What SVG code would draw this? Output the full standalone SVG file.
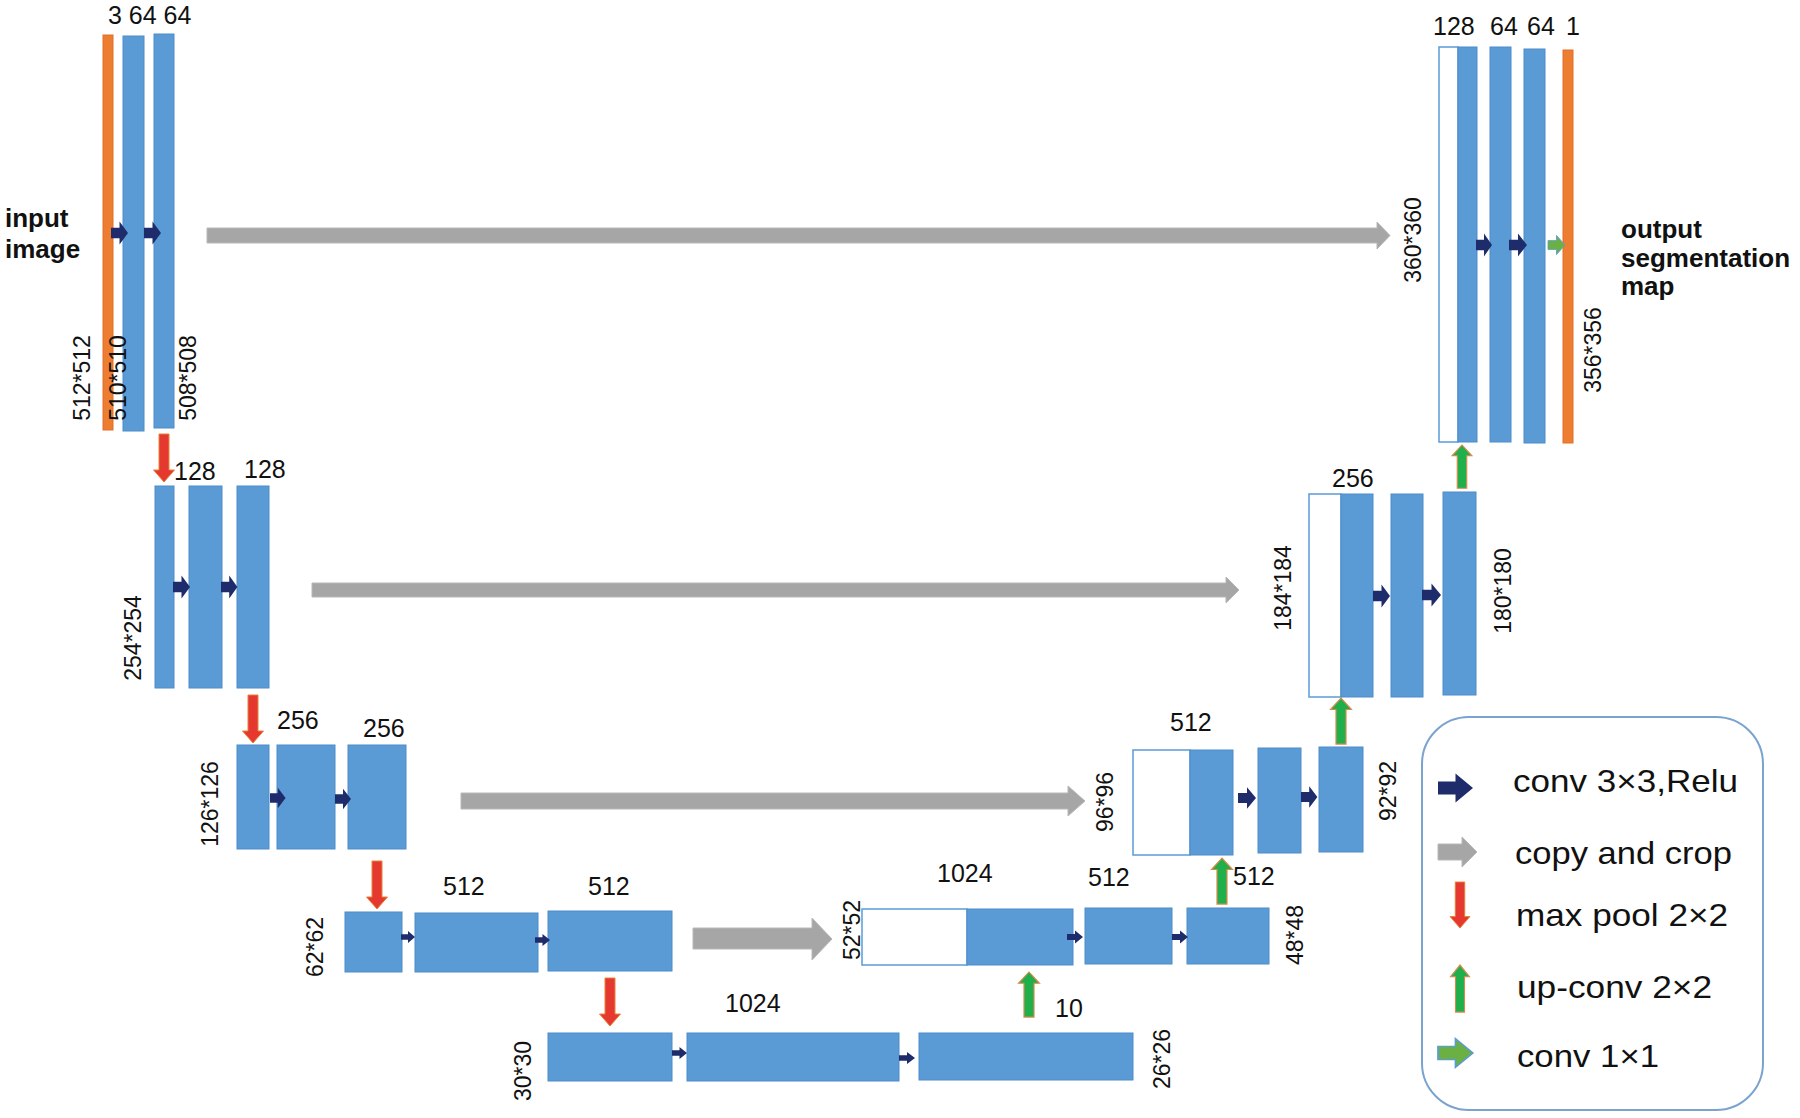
<svg xmlns="http://www.w3.org/2000/svg" width="1800" height="1118" viewBox="0 0 1800 1118">
<style>
.b{fill:#5B9BD5;stroke:#4D8CCB;stroke-width:1}
.w{fill:#FFFFFF;stroke:#5B9BD5;stroke-width:1.5}
.o{fill:#ED7D31;stroke:#E0702A;stroke-width:1}
.conv{fill:#1F2C6B}
.c11{fill:#6AB043;stroke:#5B9BD5;stroke-width:1}
.copy{fill:#A6A6A6;stroke:#B8B8B8;stroke-width:1}
.pool{fill:#E5392F;stroke:#E8823A;stroke-width:1}
.up{fill:#20B04B;stroke:#D98A4B;stroke-width:1.2}
.n{font-family:"Liberation Sans",Arial,sans-serif;font-size:25px;fill:#111}
.r{font-family:"Liberation Sans",Arial,sans-serif;font-size:23px;fill:#111;text-anchor:middle}
.bold{font-family:"Liberation Sans",Arial,sans-serif;font-size:26px;font-weight:bold;fill:#111}
.lg{font-family:"Liberation Sans",Arial,sans-serif;font-size:32px;fill:#111}
</style>
<defs>
<path id="darr" d="M0,-5.5 H10 V-12 L20,0 L10,12 V5.5 H0 Z"/>
<path id="parr" d="M-5,0 H5 V36 H10.5 L0,48 L-10.5,36 H-5 Z"/>
<path id="uarr" d="M-5,48 H5 V12 H10.5 L0,0 L-10.5,12 H-5 Z"/>
</defs>
<rect width="1800" height="1118" fill="#FFFFFF"/>

<g id="enc1">
<rect class="o" x="103" y="35" width="10" height="395"/>
<rect class="b" x="123" y="36" width="21" height="395"/>
<rect class="b" x="154" y="34" width="20" height="394"/>
<text class="n" x="108" y="24">3 64 64</text>
<text class="bold" x="5" y="227">input</text>
<text class="bold" x="5" y="258">image</text>
<text class="r" transform="translate(90,378) rotate(-90)">512*512</text>
<text class="r" transform="translate(126,378) rotate(-90)">510*510</text>
<text class="r" transform="translate(196,378) rotate(-90)">508*508</text>
</g>

<g id="enc2">
<rect class="b" x="155" y="486" width="19" height="202"/>
<rect class="b" x="189" y="486" width="33" height="202"/>
<rect class="b" x="237" y="486" width="32" height="202"/>
<text class="n" x="174" y="480">128</text>
<text class="n" x="244" y="478">128</text>
<text class="r" transform="translate(141,638) rotate(-90)">254*254</text>
</g>

<g id="enc3">
<rect class="b" x="237" y="745" width="32" height="104"/>
<rect class="b" x="277" y="745" width="58" height="104"/>
<rect class="b" x="348" y="745" width="58" height="104"/>
<text class="n" x="277" y="729">256</text>
<text class="n" x="363" y="737">256</text>
<text class="r" transform="translate(218,804) rotate(-90)">126*126</text>
</g>

<g id="enc4">
<rect class="b" x="345" y="912" width="57" height="60"/>
<rect class="b" x="415" y="913" width="123" height="59"/>
<rect class="b" x="548" y="911" width="124" height="60"/>
<text class="n" x="443" y="895">512</text>
<text class="n" x="588" y="895">512</text>
<text class="r" transform="translate(323,947) rotate(-90)">62*62</text>
</g>

<g id="bottom">
<rect class="b" x="548" y="1033" width="124" height="48"/>
<rect class="b" x="687" y="1033" width="212" height="48"/>
<rect class="b" x="919" y="1033" width="214" height="47"/>
<text class="n" x="725" y="1012">1024</text>
<text class="n" x="1055" y="1017">10</text>
<text class="r" transform="translate(531,1071) rotate(-90)">30*30</text>
<text class="r" transform="translate(1170,1059) rotate(-90)">26*26</text>
</g>

<g id="dec4">
<rect class="w" x="862" y="909" width="105" height="56"/>
<rect class="b" x="967" y="909" width="106" height="56"/>
<rect class="b" x="1085" y="908" width="87" height="56"/>
<rect class="b" x="1187" y="908" width="82" height="56"/>
<text class="n" x="937" y="882">1024</text>
<text class="n" x="1088" y="886">512</text>
<text class="n" x="1233" y="885">512</text>
<text class="r" transform="translate(860,930) rotate(-90)">52*52</text>
<text class="r" transform="translate(1303,935) rotate(-90)">48*48</text>
</g>

<g id="dec3">
<rect class="w" x="1133" y="750" width="57" height="105"/>
<rect class="b" x="1190" y="750" width="43" height="105"/>
<rect class="b" x="1258" y="748" width="43" height="105"/>
<rect class="b" x="1319" y="747" width="44" height="105"/>
<text class="n" x="1170" y="731">512</text>
<text class="r" transform="translate(1113,802) rotate(-90)">96*96</text>
<text class="r" transform="translate(1396,791) rotate(-90)">92*92</text>
</g>

<g id="dec2">
<rect class="w" x="1309" y="494" width="32" height="203"/>
<rect class="b" x="1341" y="494" width="32" height="203"/>
<rect class="b" x="1391" y="494" width="32" height="203"/>
<rect class="b" x="1443" y="492" width="33" height="203"/>
<text class="n" x="1332" y="487">256</text>
<text class="r" transform="translate(1291,588) rotate(-90)">184*184</text>
<text class="r" transform="translate(1511,591) rotate(-90)">180*180</text>
</g>

<g id="dec1">
<rect class="w" x="1439" y="47" width="19" height="395"/>
<rect class="b" x="1458" y="47" width="19" height="395"/>
<rect class="b" x="1490" y="47" width="21" height="395"/>
<rect class="b" x="1524" y="49" width="21" height="394"/>
<rect class="o" x="1563" y="50" width="10" height="393"/>
<text class="n" x="1433" y="35">128</text>
<text class="n" x="1490" y="35">64</text>
<text class="n" x="1527" y="35">64</text>
<text class="n" x="1566" y="35">1</text>
<text class="r" transform="translate(1421,240) rotate(-90)">360*360</text>
<text class="r" transform="translate(1601,350) rotate(-90)">356*356</text>
<text class="bold" x="1621" y="238">output</text>
<text class="bold" x="1621" y="267">segmentation</text>
<text class="bold" x="1621" y="295">map</text>
</g>

<g id="connectors">
<!-- conv 3x3 arrows -->
<use href="#darr" class="conv" transform="translate(111,233) scale(0.85,0.95)"/>
<use href="#darr" class="conv" transform="translate(144,233) scale(0.85,0.95)"/>
<use href="#darr" class="conv" transform="translate(173,587) scale(0.85,0.95)"/>
<use href="#darr" class="conv" transform="translate(221,587) scale(0.82,0.95)"/>
<use href="#darr" class="conv" transform="translate(270,798) scale(0.78,0.85)"/>
<use href="#darr" class="conv" transform="translate(335,799) scale(0.8,0.85)"/>
<use href="#darr" class="conv" transform="translate(401,937) scale(0.7,0.5)"/>
<use href="#darr" class="conv" transform="translate(535,940) scale(0.75,0.5)"/>
<use href="#darr" class="conv" transform="translate(672,1053) scale(0.75,0.5)"/>
<use href="#darr" class="conv" transform="translate(899,1058) scale(0.8,0.5)"/>
<use href="#darr" class="conv" transform="translate(1067,937) scale(0.8,0.55)"/>
<use href="#darr" class="conv" transform="translate(1172,937) scale(0.8,0.55)"/>
<use href="#darr" class="conv" transform="translate(1238,798) scale(0.9,0.9)"/>
<use href="#darr" class="conv" transform="translate(1301,797) scale(0.82,0.9)"/>
<use href="#darr" class="conv" transform="translate(1373,596) scale(0.85,0.95)"/>
<use href="#darr" class="conv" transform="translate(1422,595) scale(0.95,0.95)"/>
<use href="#darr" class="conv" transform="translate(1476,245) scale(0.8,0.95)"/>
<use href="#darr" class="conv" transform="translate(1509,245) scale(0.9,0.95)"/>
<use href="#darr" class="c11" transform="translate(1548,245) scale(0.85,0.8)"/>
<!-- copy and crop -->
<path class="copy" d="M207,228 H1377 V222 L1390,235.5 L1377,249 V243 H207 Z"/>
<path class="copy" d="M312,583 H1226 V577 L1239,590 L1226,603 V597 H312 Z"/>
<path class="copy" d="M461,793 H1068 V786 L1085,801 L1068,816 V809 H461 Z"/>
<path class="copy" d="M693,928 H812 V918 L832,939 L812,960 V949 H693 Z"/>
<!-- max pool -->
<use href="#parr" class="pool" transform="translate(164,434)"/>
<use href="#parr" class="pool" transform="translate(253,695)"/>
<use href="#parr" class="pool" transform="translate(377,861)"/>
<use href="#parr" class="pool" transform="translate(610,978)"/>
<!-- up-conv -->
<use href="#uarr" class="up" transform="translate(1029,972) scale(1,0.94)"/>
<use href="#uarr" class="up" transform="translate(1222,858) scale(1,0.96)"/>
<use href="#uarr" class="up" transform="translate(1341,698) scale(1,0.96)"/>
<use href="#uarr" class="up" transform="translate(1462,445) scale(0.95,0.9)"/>
</g>

<g id="legend">
<rect x="1422" y="717" width="341" height="393" rx="47" fill="#FFFFFF" stroke="#7AA3CF" stroke-width="2"/>
<use href="#darr" class="conv" transform="translate(1438,788) scale(1.75,1.2)"/>
<text class="lg" x="1513" y="792" textLength="225" lengthAdjust="spacingAndGlyphs">conv 3×3,Relu</text>
<path class="copy" d="M1438,844 H1462 V837 L1477,852 L1462,867 V860 H1438 Z"/>
<text class="lg" x="1515" y="864" textLength="217" lengthAdjust="spacingAndGlyphs">copy and crop</text>
<use href="#parr" class="pool" transform="translate(1460,882) scale(0.95,0.96)"/>
<text class="lg" x="1516" y="926" textLength="212" lengthAdjust="spacingAndGlyphs">max pool 2×2</text>
<use href="#uarr" class="up" transform="translate(1460,965) scale(0.9,0.98)"/>
<text class="lg" x="1517" y="998" textLength="195" lengthAdjust="spacingAndGlyphs">up-conv 2×2</text>
<use href="#darr" class="c11" transform="translate(1438,1053) scale(1.75,1.2)"/>
<text class="lg" x="1517" y="1067" textLength="142" lengthAdjust="spacingAndGlyphs">conv 1×1</text>
</g>
</svg>
